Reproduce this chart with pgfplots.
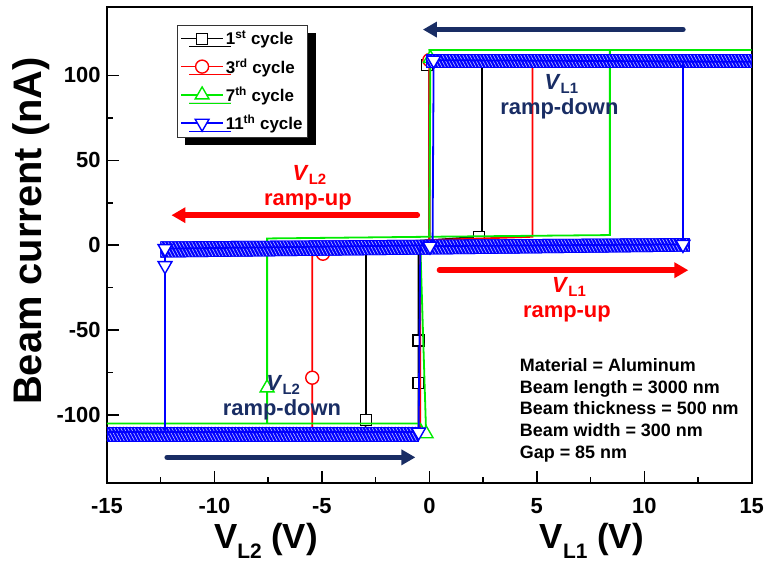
\documentclass[border=0pt]{standalone}
\usepackage{fontspec}
\setmainfont{Liberation Sans}
\usepackage{pgfplots}
\pgfplotsset{compat=1.18}
\usetikzlibrary{arrows.meta,shadows,patterns,patterns.meta}
\definecolor{navy}{RGB}{25,45,100}
\definecolor{mygreen}{RGB}{0,235,0}
\definecolor{myblue}{RGB}{0,0,255}
\definecolor{myred}{RGB}{255,0,0}
\newcommand{\fs}[2]{\fontsize{#1}{#2}\selectfont}
\newcommand{\ann}{\fs{22}{26}\bfseries}
\begin{document}
\begin{tikzpicture}
\begin{axis}[
 scale only axis, width=644.7bp, height=475.5bp,
 xmin=-15, xmax=15, ymin=-140, ymax=140,
 xtick={-15,-10,-5,0,5,10,15}, ytick={-100,-50,0,50,100},
 xticklabels={-15,-10,-5,0,5,10,15}, yticklabels={-100,-50,0,50,100},
 minor x tick num=1, minor y tick num=1,
 tick align=inside, tick pos=left,
 major tick length=12bp, minor tick length=6bp,
 every tick/.append style={black, line width=1.5bp},
 axis line style={line width=2bp},
 ticklabel style={font=\fs{22}{26}\bfseries},
 xticklabel style={yshift=-12bp},
 yticklabel style={xshift=-3bp},
 ylabel={Beam current (nA)},
 ylabel style={font=\fs{40}{48}\bfseries, at={(axis description cs:-0.118,0.53)}, anchor=center},
 clip mode=individual,
 legend style={at={(0.1085,0.963)}, anchor=north west, draw=black!80, line width=0.8bp, fill=white,
   font=\fs{17}{20}\bfseries, inner xsep=3bp, inner ysep=3.5bp, row sep=8bp, cells={anchor=west},
   drop shadow={shadow xshift=8bp, shadow yshift=-8bp, fill=black, opacity=1}},
 legend image code/.code={\draw[mark repeat=2, mark phase=2, line width=1.5bp, #1] plot coordinates {(0bp,0bp) (21bp,0bp) (42bp,0bp)};},
 band/.style={draw=myblue, fill=myblue, line width=0.8bp, postaction={pattern={Lines[angle=-62,distance=3bp,line width=0.6bp]}, pattern color=blue!25!white}, forget plot},
]
\coordinate (SW) at (rel axis cs:0,0);
\coordinate (NE) at (rel axis cs:1,1);

% 1st cycle
\addplot[black, line width=1.8bp, mark=square*, mark size=5.5bp, mark options={fill=white, solid, line width=1.4bp}, mark indices={2,6,10,14,15}, forget plot] coordinates {
 (0.1,3) (2.3,5) (2.45,6) (2.45,107) (15,107) (-0.1,106) (0.0,105) (0.0,3) (-2.95,1) (-2.95,-103) (-3.0,-110) (-15,-110) (-0.5,-110) (-0.5,-81) (-0.5,-56) (-0.5,0)
};
% 3rd cycle
\addplot[myred, line width=1.8bp, mark=*, mark size=6.5bp, mark options={fill=white, solid, line width=1.4bp}, mark indices={5,7,9}, forget plot] coordinates {
 (0.05,3) (4.8,5) (4.8,110) (15,110) (0.0,109) (0.0,3) (-4.95,-5) (-5.45,-6) (-5.45,-78) (-5.45,-108) (-15,-108) (-0.42,-109) (-0.42,0)
};
% 7th cycle
\addplot[mygreen, line width=1.8bp, mark=triangle*, mark size=8bp, mark options={fill=white, solid, line width=1.4bp}, mark indices={6,9,13}, forget plot] coordinates {
 (0.0,5) (8.4,6) (8.4,115) (15,115) (0.0,115) (0.05,110) (0.0,5) (-7.55,4) (-7.55,-84) (-7.55,-105) (-15,-105) (-0.42,-105) (-0.15,-111) (-0.42,0)
};
% 11th cycle: dense bands of data points
\addplot[band] coordinates {
 (-0.15,104.5) (15,104.5) (15,112.5) (-0.15,112.5)
} -- cycle;
\addplot[band] coordinates {
 (-12.5,-7) (12.1,-3.5) (12.1,4) (-12.5,2)
} -- cycle;
\addplot[band] coordinates {
 (-15,-115.5) (-0.5,-115.5) (-0.5,-107) (-15,-107)
} -- cycle;
\addplot[myblue, line width=1.8bp, mark=triangle*, mark size=8bp, mark options={fill=white, solid, rotate=180, line width=1.4bp}, mark indices={1,2,5,7,8,11}, forget plot] coordinates {
 (0.03,-0.5) (11.8,0.5) (11.8,108) (15,108) (0.2,109) (0.15,0) (-12.3,-2) (-12.3,-12) (-12.3,-110) (-15,-110) (-0.5,-110) (-0.42,0)
};

\addlegendimage{black, mark=square*, mark size=5.5bp, mark options={fill=white, solid, line width=1.4bp}}
\addlegendentry{1\textsuperscript{st} cycle}
\addlegendimage{myred, mark=*, mark size=6.5bp, mark options={fill=white, solid, line width=1.4bp}}
\addlegendentry{3\textsuperscript{rd} cycle}
\addlegendimage{mygreen, mark=triangle*, mark size=8bp, mark options={fill=white, solid, line width=1.4bp}}
\addlegendentry{7\textsuperscript{th} cycle}
\addlegendimage{myblue, mark=triangle*, mark size=8bp, mark options={fill=white, solid, rotate=180, line width=1.4bp}}
\addlegendentry{11\textsuperscript{th} cycle}

% arrows
\draw[navy, line width=5.5bp, line cap=round, -{Triangle[length=14bp,width=15bp]}] (axis cs:11.8,127) -- (axis cs:-0.3,127);
\draw[myred, line width=5.5bp, line cap=round, -{Triangle[length=14bp,width=15bp]}] (axis cs:-0.56,17.7) -- (axis cs:-12.0,17.7);
\draw[myred, line width=5.5bp, line cap=round, -{Triangle[length=14bp,width=15bp]}] (axis cs:0.47,-14.7) -- (axis cs:12.05,-14.7);
\draw[navy, line width=5.5bp, line cap=round, -{Triangle[length=14bp,width=15bp]}] (axis cs:-12.2,-124.9) -- (axis cs:-0.65,-124.9);

% annotations
\node[anchor=base, text=navy, font=\ann] at (axis cs:6.14,91.9) {\textit{V}\raisebox{-4bp}{\fs{15}{18}L1}};
\node[anchor=base, text=navy, font=\ann] at (axis cs:6.05,77.1) {ramp-down};
\node[anchor=base, text=myred, font=\ann] at (axis cs:-5.58,38.3) {\textit{V}\raisebox{-4bp}{\fs{15}{18}L2}};
\node[anchor=base, text=myred, font=\ann] at (axis cs:-5.65,23.6) {ramp-up};
\node[anchor=base, text=myred, font=\ann] at (axis cs:6.5,-27.7) {\textit{V}\raisebox{-4bp}{\fs{15}{18}L1}};
\node[anchor=base, text=myred, font=\ann] at (axis cs:6.4,-42.4) {ramp-up};
\node[anchor=base, text=navy, font=\ann] at (axis cs:-6.8,-85.4) {\textit{V}\raisebox{-4bp}{\fs{15}{18}L2}};
\node[anchor=base, text=navy, font=\ann] at (axis cs:-6.86,-100.1) {ramp-down};

\node[anchor=base west, font=\fs{18}{22}\bfseries] at (axis cs:4.05,-74.2) {Material = Aluminum};
\node[anchor=base west, font=\fs{18}{22}\bfseries] at (axis cs:4.05,-87.2) {Beam length = 3000 nm};
\node[anchor=base west, font=\fs{18}{22}\bfseries] at (axis cs:4.05,-99.8) {Beam thickness = 500 nm};
\node[anchor=base west, font=\fs{18}{22}\bfseries] at (axis cs:4.05,-112.5) {Beam width = 300 nm};
\node[anchor=base west, font=\fs{18}{22}\bfseries] at (axis cs:4.05,-125.4) {Gap = 85 nm};

% x labels
\node[anchor=base, font=\fs{35}{40}\bfseries] at (axis description cs:0.2465,-0.1367) {V\raisebox{-10bp}{\fs{21}{24}L2} (V)};
\node[anchor=base, font=\fs{35}{40}\bfseries] at (axis description cs:0.752,-0.1367) {V\raisebox{-10bp}{\fs{21}{24}L1} (V)};
\end{axis}
\pgfresetboundingbox
\path ([shift={(-107bp,-82bp)}]SW) rectangle ([shift={(14.3bp,7.5bp)}]NE);
\end{tikzpicture}
\end{document}
